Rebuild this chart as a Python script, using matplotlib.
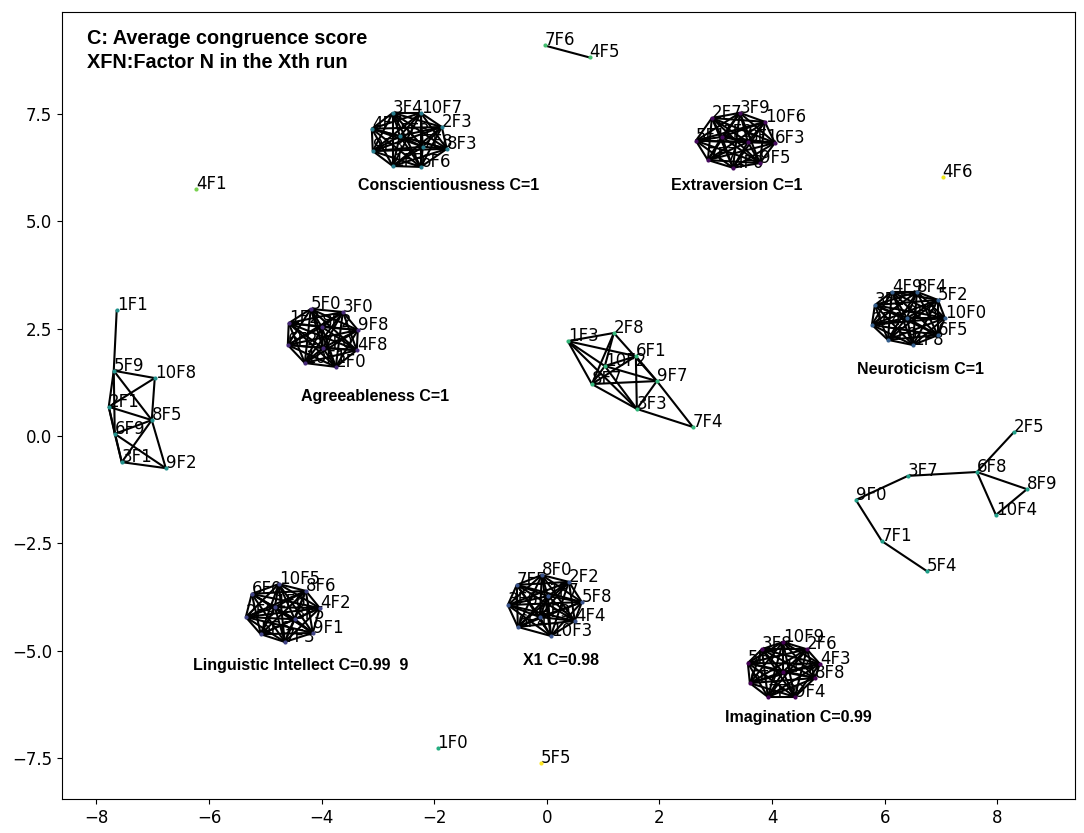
import matplotlib
matplotlib.use("Agg")
import matplotlib.pyplot as plt
from matplotlib.collections import LineCollection
from itertools import combinations

# ---------------- data ----------------
# dense clusters (complete graphs)
cluster_names = ["Conscientiousness", "Extraversion", "Agreeableness", "Neuroticism",
                 "Linguistic Intellect", "X1", "Imagination"]
cluster_scores = ["1", "1", "1", "1", "0.99  9", "0.98", "0.99"]
cluster_label_x = [-1.74, 3.375, -3.055, 6.643, -4.37, 0.249, 4.476]
cluster_label_y = [5.83, 5.83, 0.93, 1.56, -5.34, -5.24, -6.55]
cluster_color_vals = [0.42, 0.03, 0.12, 0.30, 0.20, 0.26, 0.0]

consc_labels = ["3F4", "10F7", "2F3", "4F7", "5F3", "7F8", "8F3", "9F3", "1F5", "6F6"]
consc_x = [-2.735, -2.238, -1.865, -3.108, -2.611, -2.202, -1.776, -3.091, -2.735, -2.238]
consc_y = [7.53, 7.53, 7.20, 7.16, 6.99, 6.74, 6.69, 6.64, 6.29, 6.27]

extra_labels = ["2F7", "3F9", "10F6", "5F1", "1F9", "8F1", "6F3", "7F7", "4F0", "9F5"]
extra_x = [2.931, 3.428, 3.872, 2.647, 3.108, 3.570, 4.050, 2.860, 3.304, 3.783]
extra_y = [7.41, 7.53, 7.32, 6.88, 6.97, 6.85, 6.83, 6.43, 6.25, 6.36]

agree_labels = ["5F0", "3F0", "1F2", "8F2", "9F8", "6F2", "7F0", "4F8", "10F1", "2F0"]
agree_x = [-4.192, -3.623, -4.583, -3.996, -3.357, -4.600, -3.979, -3.375, -4.298, -3.748]
agree_y = [2.96, 2.89, 2.63, 2.54, 2.47, 2.12, 2.05, 2.00, 1.70, 1.61]

neuro_labels = ["4F9", "8F4", "5F2", "3F2", "9F6", "10F0", "2F4", "6F5", "7F9", "1F8"]
neuro_x = [6.128, 6.572, 6.945, 5.826, 6.394, 7.069, 5.773, 6.945, 6.057, 6.501]
neuro_y = [3.36, 3.36, 3.17, 3.05, 2.75, 2.75, 2.59, 2.35, 2.24, 2.12]

ling_labels = ["10F5", "8F6", "6F0", "4F2", "1F6", "2F9", "3F5", "9F1", "5F6", "7F3"]
ling_x = [-4.760, -4.281, -5.240, -4.032, -4.831, -5.346, -4.476, -4.156, -5.080, -4.654]
ling_y = [-3.45, -3.61, -3.68, -4.01, -3.99, -4.22, -4.27, -4.59, -4.62, -4.80]

x1_labels = ["8F0", "2F2", "7F5", "1F7", "5F8", "3F6", "9F9", "4F4", "6F4", "10F3"]
x1_x = [-0.089, 0.391, -0.533, 0.018, 0.622, -0.693, -0.124, 0.497, -0.515, 0.071]
x1_y = [-3.24, -3.40, -3.47, -3.73, -3.87, -3.94, -4.22, -4.31, -4.45, -4.66]

imag_labels = ["10F9", "3F8", "2F6", "5F7", "4F3", "1F4", "6F7", "8F8", "7F2", "9F4"]
imag_x = [4.192, 3.819, 4.618, 3.570, 4.849, 4.192, 3.606, 4.760, 3.925, 4.405]
imag_y = [-4.80, -4.97, -4.97, -5.29, -5.31, -5.50, -5.76, -5.64, -6.08, -6.08]

# sparse groups
left_labels = ["1F1", "5F9", "10F8", "2F1", "8F5", "6F9", "3F1", "9F2"]
left_x = [-7.638, -7.691, -6.963, -7.780, -7.016, -7.673, -7.549, -6.767]
left_y = [2.94, 1.52, 1.35, 0.68, 0.37, 0.05, -0.61, -0.75]
left_edges = [("1F1", "5F9"), ("5F9", "10F8"), ("5F9", "2F1"), ("5F9", "6F9"), ("5F9", "8F5"),
              ("10F8", "2F1"), ("10F8", "8F5"), ("2F1", "8F5"), ("2F1", "6F9"), ("2F1", "3F1"),
              ("6F9", "8F5"), ("6F9", "3F1"), ("6F9", "9F2"), ("8F5", "3F1"), ("8F5", "9F2"),
              ("3F1", "9F2")]

mid_labels = ["1F3", "2F8", "6F1", "10F2", "8F7", "9F7", "3F3", "7F4"]
mid_x = [0.373, 1.190, 1.581, 1.030, 0.799, 1.954, 1.599, 2.593]
mid_y = [2.21, 2.40, 1.86, 1.63, 1.21, 1.28, 0.63, 0.21]
mid_edges = [("1F3", "2F8"), ("1F3", "6F1"), ("1F3", "8F7"), ("1F3", "3F3"), ("1F3", "10F2"),
             ("2F8", "8F7"), ("2F8", "10F2"), ("2F8", "9F7"), ("6F1", "10F2"), ("6F1", "8F7"),
             ("6F1", "3F3"), ("6F1", "9F7"), ("10F2", "8F7"), ("10F2", "9F7"), ("10F2", "3F3"),
             ("8F7", "9F7"), ("8F7", "3F3"), ("9F7", "3F3"), ("9F7", "7F4"), ("3F3", "7F4")]

chain_labels = ["2F5", "3F7", "6F8", "8F9", "9F0", "10F4", "7F1", "5F4"]
chain_x = [8.295, 6.412, 7.638, 8.526, 5.488, 7.975, 5.950, 6.750]
chain_y = [0.09, -0.93, -0.84, -1.24, -1.49, -1.84, -2.45, -3.15]
chain_edges = [("2F5", "6F8"), ("3F7", "6F8"), ("9F0", "3F7"), ("6F8", "8F9"), ("6F8", "10F4"),
               ("8F9", "10F4"), ("9F0", "7F1"), ("7F1", "5F4")]

pair_labels = ["7F6", "4F5"]
pair_x = [-0.04, 0.76]
pair_y = [9.10, 8.82]
pair_edges = [("7F6", "4F5")]

single_labels = ["4F1", "4F6", "1F0", "5F5"]
single_x = [-6.23, 7.03, -1.94, -0.11]
single_y = [5.76, 6.04, -7.26, -7.63]
single_color_vals = [0.80, 0.97, 0.62, 1.0]

group_color_vals = [0.50, 0.66, 0.56, 0.70]

# ---------------- plot ----------------
fig = plt.figure(figsize=(10.84, 8.33), dpi=100)
ax = fig.add_axes([0.0572, 0.0408, 0.9345, 0.9448])
cmap = plt.get_cmap("viridis")


def draw_group(labels, xs, ys, edges, cval):
    pos = {l: (x, y) for l, x, y in zip(labels, xs, ys)}
    segs = [[pos[a], pos[b]] for a, b in edges]
    if segs:
        ax.add_collection(LineCollection(segs, colors="black", linewidths=1.5, zorder=2))
    ax.scatter(xs, ys, s=9, color=cmap(cval), zorder=3, linewidths=0)
    for l, x, y in zip(labels, xs, ys):
        ax.text(x, y, l, fontsize=12, ha="left", va="baseline", zorder=1,
                family="DejaVu Sans")


clusters = [
    (consc_labels, consc_x, consc_y),
    (extra_labels, extra_x, extra_y),
    (agree_labels, agree_x, agree_y),
    (neuro_labels, neuro_x, neuro_y),
    (ling_labels, ling_x, ling_y),
    (x1_labels, x1_x, x1_y),
    (imag_labels, imag_x, imag_y),
]
for (labels, xs, ys), cval in zip(clusters, cluster_color_vals):
    draw_group(labels, xs, ys, list(combinations(labels, 2)), cval)

draw_group(left_labels, left_x, left_y, left_edges, group_color_vals[0])
draw_group(mid_labels, mid_x, mid_y, mid_edges, group_color_vals[1])
draw_group(chain_labels, chain_x, chain_y, chain_edges, group_color_vals[2])
draw_group(pair_labels, pair_x, pair_y, pair_edges, group_color_vals[3])
for l, x, y, c in zip(single_labels, single_x, single_y, single_color_vals):
    draw_group([l], [x], [y], [], c)

for name, score, lx, ly in zip(cluster_names, cluster_scores, cluster_label_x, cluster_label_y):
    ax.text(lx, ly, f"{name} C={score}", fontsize=11.5, fontweight="bold",
            family="Liberation Sans", ha="center", va="center")

ax.text(0.0247, 0.978, "C: Average congruence score\nXFN:Factor N in the Xth run",
        transform=ax.transAxes, fontsize=14.3, fontweight="bold", family="Liberation Sans",
        ha="left", va="top", linespacing=1.3)

ax.set_xlim(-8.61, 9.38)
ax.set_ylim(-8.46, 9.88)
ax.set_xticks([-8, -6, -4, -2, 0, 2, 4, 6, 8])
ax.set_yticks([-7.5, -5.0, -2.5, 0.0, 2.5, 5.0, 7.5])
ax.tick_params(labelsize=12)

fig.savefig("out.png", dpi=100)
